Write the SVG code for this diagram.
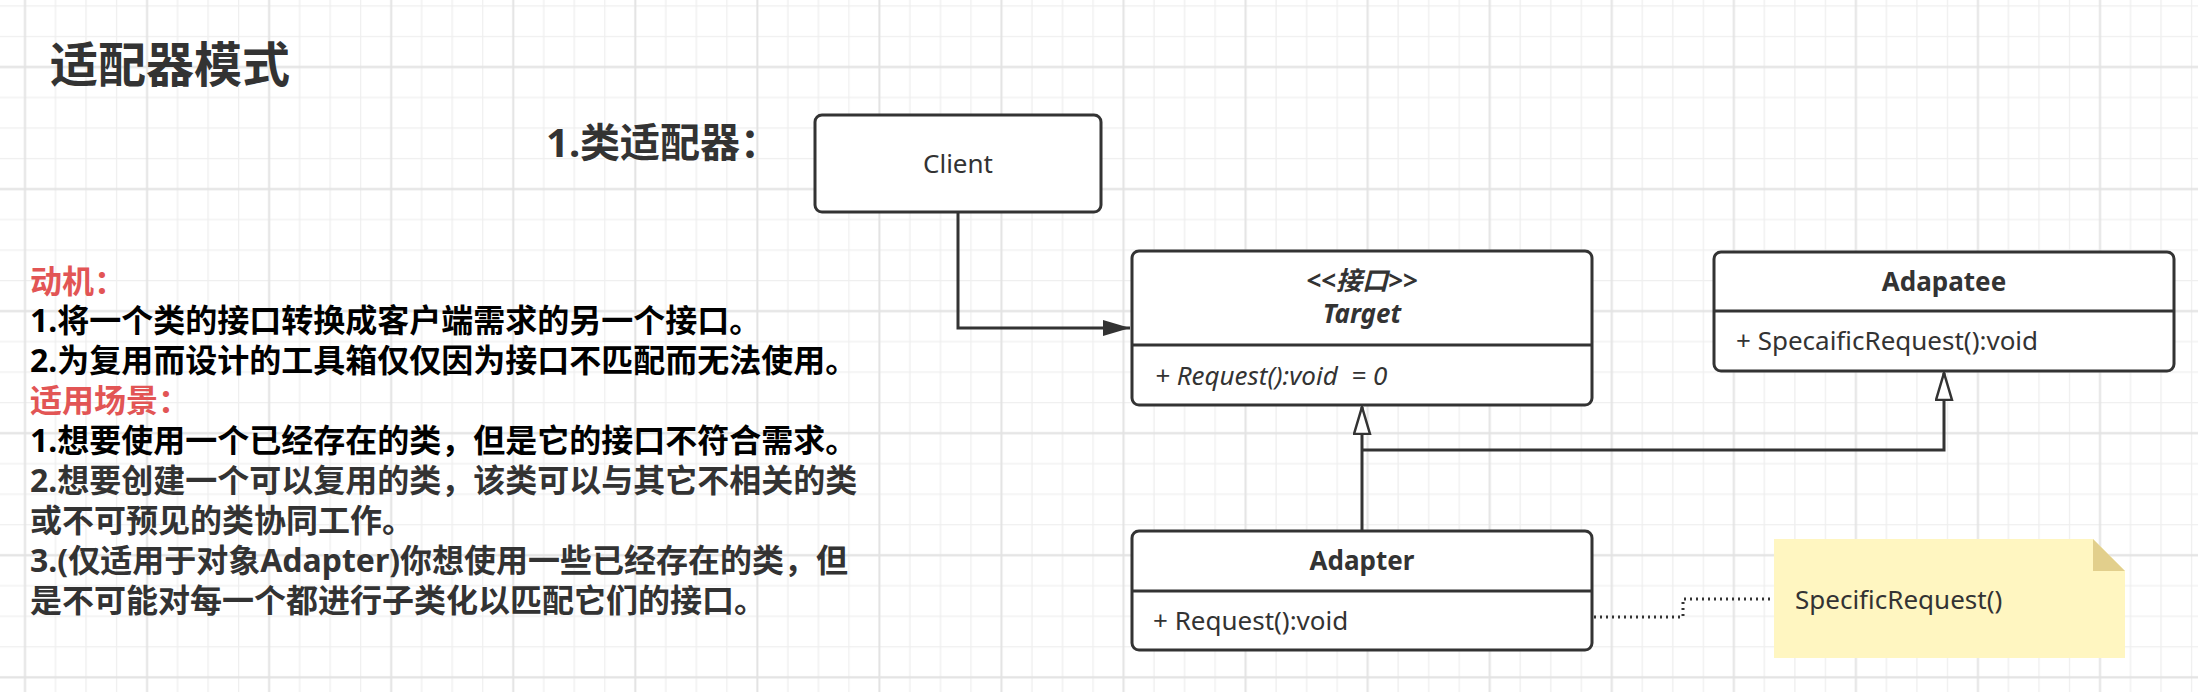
<svg xmlns="http://www.w3.org/2000/svg" width="2198" height="692" viewBox="0 0 2198 692">
  <defs>
    <pattern id="grid" patternUnits="userSpaceOnUse" x="9.7425" y="51.7425" width="122.06" height="122.06">
      <path d="M45.77 0V122.06M76.29 0V122.06M106.8 0V122.06M0 45.77H122.06M0 76.29H122.06M0 106.8H122.06" stroke="#efefef" stroke-width="1.3" fill="none"/>
      <path d="M15.26 0V122.06M0 15.26H122.06" stroke="#e3e3e3" stroke-width="2" fill="none"/>
    </pattern>
    <marker id="filled" markerUnits="userSpaceOnUse" markerWidth="30" markerHeight="20" refX="27" refY="8" orient="auto">
      <path d="M0 0L27 8L0 16Z" fill="#333"/>
    </marker>
    <marker id="hollow" markerUnits="userSpaceOnUse" markerWidth="32" markerHeight="22" refX="28" refY="9" orient="auto">
      <path d="M1 1L28 9L1 17Z" fill="#fff" stroke="#333" stroke-width="2.5" stroke-linejoin="miter"/>
    </marker>
  </defs>
  <style>
    .box { fill: #fff; stroke: #333; stroke-width: 3; }
    .div { stroke: #333; stroke-width: 3; }
    .t { font-family: "Noto Sans", "Noto Sans CJK SC", sans-serif; font-size: 26px; fill: #333; }
    .b { font-weight: 700; }
    .i { font-style: italic; }
    .mid { text-anchor: middle; }
    .cn { font-family: "Noto Sans", "Noto Sans CJK SC", sans-serif; font-weight: 700; }
    .desc { font-size: 32px; }
    .red { fill: #e25555; }
    .blk { fill: #000; }
    .gry { fill: #333; }
    .conn { fill: none; stroke: #333; stroke-width: 3; }
    .dot { fill: none; stroke: #333; stroke-width: 3; stroke-dasharray: 2 4; }
  </style>
  <rect width="2198" height="692" fill="#fff"/>
  <rect width="2198" height="692" fill="url(#grid)"/>

  <g id="title">
    <text class="cn gry" x="50" y="82" font-size="48">适配器模式</text>
  </g>
  <g id="subtitle">
    <text class="cn gry" x="546" y="157" font-size="40">1.类适配器：</text>
  </g>

  <g id="description" class="cn desc">
    <text class="red" x="30" y="293">动机：</text>
    <text class="blk" x="30" y="332">1.将一个类的接口转换成客户端需求的另一个接口。</text>
    <text class="blk" x="30" y="372">2.为复用而设计的工具箱仅仅因为接口不匹配而无法使用。</text>
    <text class="red" x="30" y="412">适用场景：</text>
    <text class="blk" x="30" y="452">1.想要使用一个已经存在的类，但是它的接口不符合需求。</text>
    <text class="gry" x="30" y="492">2.想要创建一个可以复用的类，该类可以与其它不相关的类</text>
    <text class="gry" x="30" y="532">或不可预见的类协同工作。</text>
    <text class="gry" x="30" y="572">3.(仅适用于对象Adapter)你想使用一些已经存在的类，但</text>
    <text class="gry" x="30" y="612">是不可能对每一个都进行子类化以匹配它们的接口。</text>
  </g>

  <g id="connectors">
    <path class="conn" d="M958 213V328H1130" marker-end="url(#filled)"/>
    <path class="conn" d="M1362 531V407" marker-end="url(#hollow)"/>
    <path class="conn" d="M1362 450H1944V373" marker-end="url(#hollow)"/>
    <path class="dot" d="M1594 617H1683V599H1774"/>
  </g>

  <g id="client">
    <rect class="box" x="815" y="115" width="286" height="97" rx="7"/>
    <text class="t mid" x="958" y="173">Client</text>
  </g>

  <g id="target">
    <rect class="box" x="1132" y="251" width="460" height="154" rx="7"/>
    <line class="div" x1="1132" y1="345" x2="1592" y2="345"/>
    <text class="t b i mid" x="1362" y="290">&lt;&lt;接口&gt;&gt;</text>
    <text class="t b i mid" x="1362" y="323" font-size="27">Target</text>
    <text class="t i" x="1155" y="385" font-size="28">+ Request():void&#160; = 0</text>
  </g>

  <g id="adaptee">
    <rect class="box" x="1714" y="252" width="460" height="119" rx="7"/>
    <line class="div" x1="1714" y1="311" x2="2174" y2="311"/>
    <text class="t b mid" x="1944" y="291">Adapatee</text>
    <text class="t" x="1736" y="350">+ SpecaificRequest():void</text>
  </g>

  <g id="adapter">
    <rect class="box" x="1132" y="531" width="460" height="119" rx="7"/>
    <line class="div" x1="1132" y1="591" x2="1592" y2="591"/>
    <text class="t b mid" x="1362" y="570">Adapter</text>
    <text class="t" x="1153" y="630">+ Request():void</text>
  </g>

  <g id="note">
    <path d="M1774 539H2093L2125 571V658H1774Z" fill="#fff6c1"/>
    <path d="M2093 539V571H2125Z" fill="#e2cf8c"/>
    <text class="t" x="1795" y="609">SpecificRequest()</text>
  </g>
</svg>
